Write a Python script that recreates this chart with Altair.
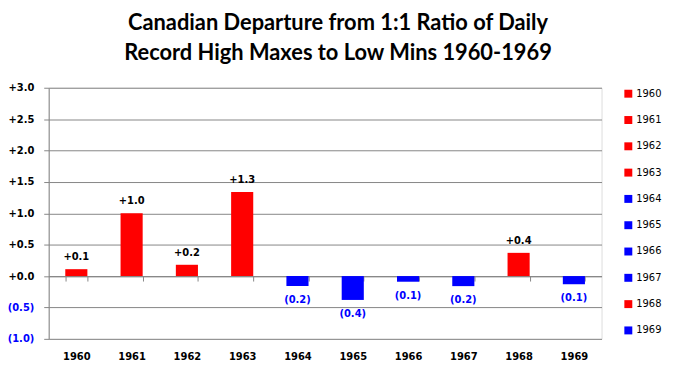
import altair as alt
import pandas as pd

years = ["1960", "1961", "1962", "1963", "1964", "1965", "1966", "1967", "1968", "1969"]
values = [0.11, 1.00, 0.18, 1.34, -0.16, -0.38, -0.09, -0.16, 0.37, -0.13]
colors = ["#ff0000" if v > 0 else "#0000ff" for v in values]
labels = [f"+{v:.1f}" if v >= 0 else f"({-v:.1f})" for v in values]
y_ticks = [-1.0, -0.5, 0.0, 0.5, 1.0, 1.5, 2.0, 2.5, 3.0]

df = pd.DataFrame({"Year": years, "Value": values, "Label": labels})

W, H = 557, 253
ymin, ymax = -1.0, 3.0
zero_offset = H * (0 - ymin) / (ymax - ymin)

x_enc = alt.X(
    "Year:N",
    sort=years,
    title=None,
    scale=alt.Scale(paddingInner=0.6, paddingOuter=0.3),
    axis=alt.Axis(
        offset=-zero_offset,
        labelPadding=zero_offset + 8,
        labelAngle=0,
        labelFont="DejaVu Sans",
        labelFontSize=10,
        labelFontWeight="bold",
        labelColor="black",
        domainColor="#868686",
        tickColor="#868686",
        tickSize=5,
        tickBand="extent",
    ),
)

y_enc = alt.Y(
    "Value:Q",
    title=None,
    scale=alt.Scale(domain=[ymin, ymax], nice=False, zero=False),
    axis=alt.Axis(
        values=y_ticks,
        tickCount=9,
        labelOverlap=False,
        labelExpr="datum.value < 0 ? '(' + format(-datum.value, '.1f') + ')' : '+' + format(datum.value, '.1f')",
        labelColor=alt.condition("datum.value < 0", alt.value("#0000ff"), alt.value("black")),
        labelFont="DejaVu Sans",
        labelFontSize=10,
        labelFontWeight="bold",
        labelPadding=10,
        grid=True,
        gridColor="#868686",
        domainColor="#868686",
        tickColor="#868686",
        tickSize=5,
    ),
)

bars = alt.Chart(df).mark_bar().encode(
    x=x_enc,
    y=y_enc,
    y2=alt.datum(0),
    color=alt.Color(
        "Year:N",
        scale=alt.Scale(domain=years, range=colors),
        legend=alt.Legend(
            title=None,
            orient="none",
            legendX=579,
            legendY=1,
            symbolType="square",
            symbolSize=64,
            symbolStrokeWidth=0,
            labelFont="DejaVu Sans",
            labelFontSize=10,
            labelColor="black",
            labelOffset=3,
            rowPadding=16.5,
        ),
    ),
)

pos_text = alt.Chart(df).transform_filter("datum.Value >= 0").mark_text(
    baseline="alphabetic", dy=-9, font="DejaVu Sans", fontSize=10, fontWeight="bold", color="black"
).encode(x=x_enc, y=y_enc, text="Label:N")

neg_text = alt.Chart(df).transform_filter("datum.Value < 0").mark_text(
    baseline="top", dy=9, font="DejaVu Sans", fontSize=10, fontWeight="bold", color="#0000ff"
).encode(x=x_enc, y=y_enc, text="Label:N")

chart = alt.layer(bars, pos_text, neg_text).properties(
    width=W,
    height=H,
    autosize=alt.AutoSizeParams(type="none"),
    padding={"left": 41, "top": 79, "right": 70, "bottom": 26},
    title=alt.TitleParams(
        text=["Canadian Departure from 1:1 Ratio of Daily", "Record High Maxes to Low Mins 1960-1969"],
        font="Lato",
        fontSize=22,
        fontWeight="bold",
        color="black",
        anchor="middle",
        dx=13,
        offset=18,
        lineHeight=30,
    ),
).configure_view(stroke=None).configure(background="white")

chart.save("out.html", embed_options={"renderer": "svg", "actions": False})
